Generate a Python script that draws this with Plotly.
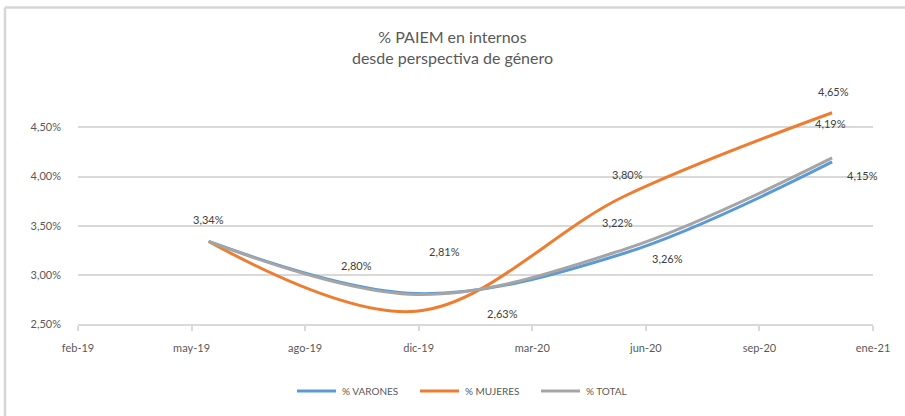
import pandas as pd
import plotly.graph_objects as go

# Semester snapshots of the PAIEM indicator (percent)
fechas = ["2019-06-01", "2019-12-01", "2020-06-01", "2020-12-01"]
varones = [3.34, 2.81, 3.22, 4.15]
mujeres = [3.34, 2.63, 3.80, 4.65]
total = [3.34, 2.80, 3.26, 4.19]

x_ticktext = ["feb-19", "may-19", "ago-19", "dic-19", "mar-20", "jun-20", "sep-20", "ene-21"]
y_tickvals = [2.5, 3.0, 3.5, 4.0, 4.5]

# Date axis: starts early Feb 2019, one major tick every 100 days
x_start = pd.Timestamp("2019-02-06")
x_ticks = [x_start + pd.Timedelta(days=100 * i) for i in range(len(x_ticktext))]
x_end = x_ticks[-1]
y_range = [2.5, 4.8]

W, H = 905, 416
ML, MR, MT, MB = 78, 32, 98, 92

AZUL, NARANJA, GRIS = "#5B9BD5", "#ED7D31", "#A5A5A5"
FONT = "Lato, 'Open Sans', sans-serif"


def pct(v):
    return f"{v:.2f}%".replace(".", ",")


pw = W - ML - MR
ph = H - MT - MB


def px_x(p):
    return (p - ML) / pw


def px_y(p):
    return (H - MB - p) / ph


fig = go.Figure()
series = [("% VARONES", varones, AZUL), ("% MUJERES", mujeres, NARANJA), ("% TOTAL", total, GRIS)]
for name, vals, color in series:
    fig.add_trace(go.Scatter(
        x=fechas, y=vals, name=name, mode="lines",
        line=dict(color=color, width=3, shape="spline", smoothing=1.0),
        hoverinfo="skip", showlegend=False,
    ))

# Data labels (series, point index, pixel offset of the label from its point)
label_specs = [
    (total, 0, 0, 22),
    (total, 1, -60, 29),
    (varones, 1, 28, 42),
    (mujeres, 1, 86, -2),
    (mujeres, 2, 3, 22),
    (varones, 2, -7, 31),
    (total, 2, 43, -9),
    (mujeres, 3, 1, 21),
    (total, 3, -2, 34),
    (varones, 3, 30, -14),
]
for vals, i, dx, dy in label_specs:
    fig.add_annotation(
        x=fechas[i], y=vals[i], text=pct(vals[i]), showarrow=False,
        xshift=dx, yshift=dy, font=dict(family=FONT, size=11, color="#404040"),
    )

# Legend drawn below the axis: sample line + label for each series
legend_y = px_y(391)
legend_x0 = [297, 420, 541]
for (name, _, color), x0 in zip(series, legend_x0):
    fig.add_shape(type="line", xref="paper", yref="paper",
                  x0=px_x(x0), x1=px_x(x0 + 39), y0=legend_y, y1=legend_y,
                  line=dict(color=color, width=3))
    fig.add_annotation(xref="paper", yref="paper", x=px_x(x0 + 43), y=legend_y,
                       xanchor="left", yanchor="middle", showarrow=False, text=name,
                       font=dict(family=FONT, size=10, color="#595959"))

# Chart area border (top and left edges)
border = dict(color="#d6d6d6", width=2.5)
fig.add_shape(type="line", xref="paper", yref="paper",
              x0=px_x(5), x1=px_x(W + 5), y0=px_y(7.5), y1=px_y(7.5), line=border)
fig.add_shape(type="line", xref="paper", yref="paper",
              x0=px_x(5), x1=px_x(5), y0=px_y(7.5), y1=px_y(H + 5), line=border)

fig.update_layout(
    width=W, height=H,
    margin=dict(l=ML, r=MR, t=MT, b=MB, autoexpand=False),
    paper_bgcolor="white", plot_bgcolor="white",
    font=dict(family=FONT, color="#595959"),
    title=dict(
        text="% PAIEM en internos<br>desde perspectiva de género",
        x=0.5, xref="container", xanchor="center",
        y=1 - 43 / H, yanchor="middle",
        font=dict(family=FONT, size=16, color="#595959"),
    ),
    showlegend=False,
    xaxis=dict(
        type="date", range=[x_start, x_end], automargin=False,
        tickmode="array", tickvals=x_ticks, ticktext=x_ticktext, tickangle=0,
        showgrid=False, zeroline=False,
        showline=True, linecolor="#d9d9d9", linewidth=1.5,
        ticks="outside", ticklen=5, tickcolor="#d9d9d9", tickwidth=1.5,
        ticklabelstandoff=8,
        tickfont=dict(family=FONT, size=11, color="#595959"),
    ),
    yaxis=dict(
        range=y_range, automargin=False,
        tickmode="array", tickvals=y_tickvals, ticktext=[pct(v) for v in y_tickvals],
        showgrid=True, gridcolor="#d9d9d9", gridwidth=1.5,
        zeroline=False, showline=False, ticks="",
        ticklabelstandoff=16,
        tickfont=dict(family=FONT, size=11, color="#595959"),
    ),
)

fig.write_html("out.html")
